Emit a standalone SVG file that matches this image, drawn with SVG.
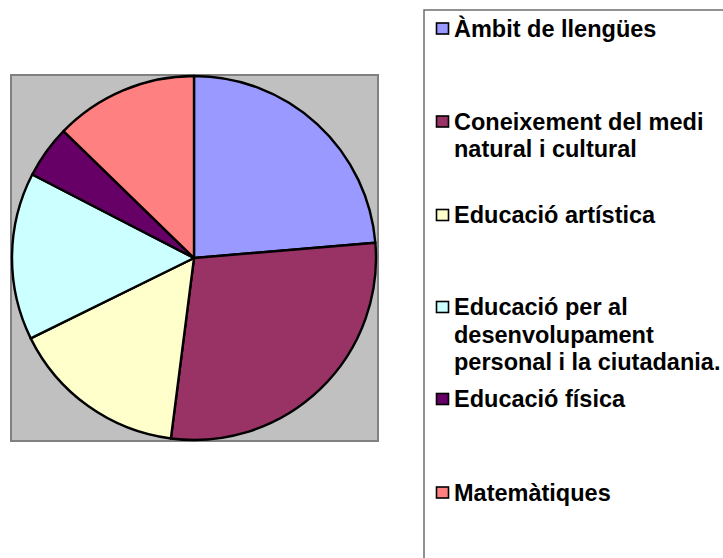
<svg xmlns="http://www.w3.org/2000/svg" width="723" height="558" viewBox="0 0 723 558">
<style>
.slice{stroke:#000;stroke-width:2.4;stroke-linejoin:round}
.key{stroke:#000;stroke-width:1.6}
.lbl{font-family:"Liberation Sans",Arial,sans-serif;font-weight:bold;font-size:23.5px;fill:#000}
</style>
<rect width="723" height="558" fill="#fff"/>
<g id="plot-area">
<rect x="11" y="75" width="367" height="366" fill="#C0C0C0" stroke="#808080" stroke-width="2"/>
</g>
<g id="pie">
<path id="slice-ambit" class="slice" fill="#9999FF" d="M194,258 L194,76 A182,182 0 0 1 375.36,242.77 Z"/>
<path id="slice-coneixement" class="slice" fill="#993366" d="M194,258 L375.36,242.77 A182,182 0 0 1 170.88,438.52 Z"/>
<path id="slice-artistica" class="slice" fill="#FFFFCC" d="M194,258 L170.88,438.52 A182,182 0 0 1 30.70,338.36 Z"/>
<path id="slice-ciutadania" class="slice" fill="#CCFFFF" d="M194,258 L30.70,338.36 A182,182 0 0 1 32.27,174.53 Z"/>
<path id="slice-fisica" class="slice" fill="#660066" d="M194,258 L32.27,174.53 A182,182 0 0 1 63.52,131.11 Z"/>
<path id="slice-matematiques" class="slice" fill="#FF8080" d="M194,258 L63.52,131.11 A182,182 0 0 1 194,76 Z"/>
</g>
<g id="legend">
<rect x="424" y="10" width="320" height="560" fill="#fff" stroke="#6e6e6e" stroke-width="1.5"/>
<g id="leg-ambit">
<rect class="key" x="436.5" y="23" width="12" height="11" fill="#9999FF"/>
<text class="lbl" x="454" y="37">Àmbit de llengües</text>
</g>
<g id="leg-coneixement">
<rect class="key" x="436.5" y="116" width="12" height="11" fill="#993366"/>
<text class="lbl" x="454" y="130">Coneixement del medi</text>
<text class="lbl" x="454" y="157">natural i cultural</text>
</g>
<g id="leg-artistica">
<rect class="key" x="436.5" y="209.5" width="12" height="11" fill="#FFFFCC"/>
<text class="lbl" x="454" y="223">Educació artística</text>
</g>
<g id="leg-ciutadania">
<rect class="key" x="436.5" y="301.5" width="12" height="11" fill="#CCFFFF"/>
<text class="lbl" x="454" y="315">Educació per al</text>
<text class="lbl" x="454" y="342.5">desenvolupament</text>
<text class="lbl" x="454" y="370">personal i la ciutadania.</text>
</g>
<g id="leg-fisica">
<rect class="key" x="436.5" y="393.5" width="12" height="11" fill="#660066"/>
<text class="lbl" x="454" y="407">Educació física</text>
</g>
<g id="leg-matematiques">
<rect class="key" x="436.5" y="487" width="12" height="11" fill="#FF8080"/>
<text class="lbl" x="454" y="500.5">Matemàtiques</text>
</g>
</g>
</svg>
